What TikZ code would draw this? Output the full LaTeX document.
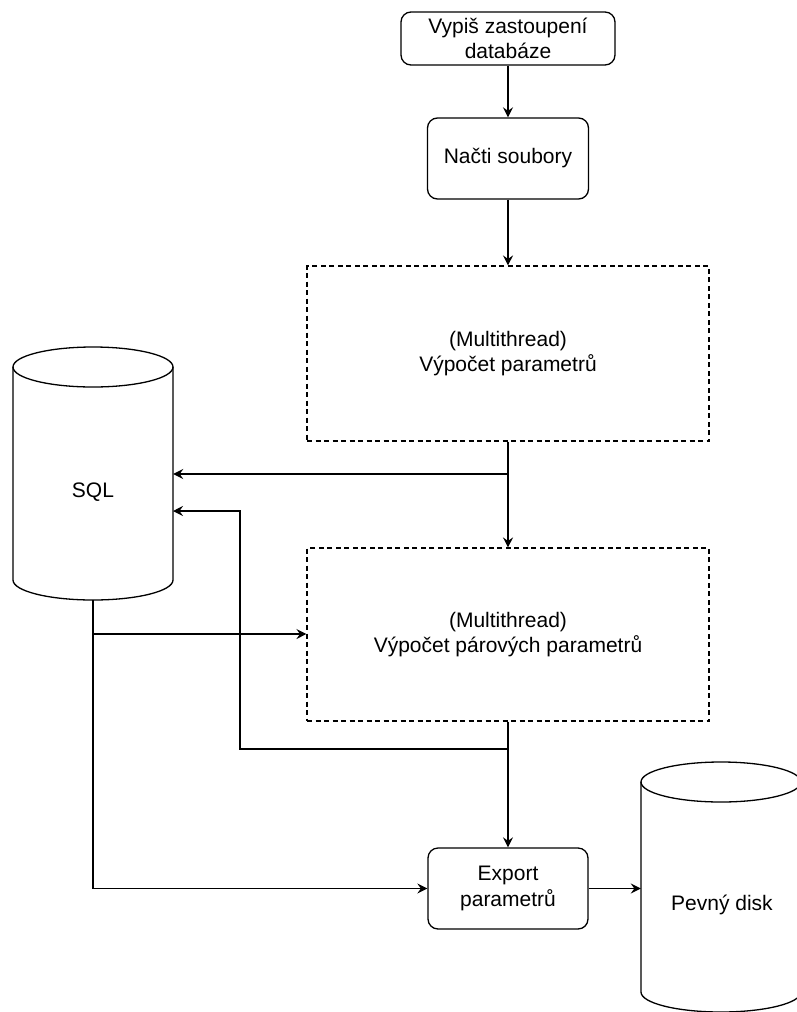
\documentclass[tikz,border=0pt]{standalone}
\usepackage{fontspec}
\setmainfont{Liberation Sans}
\usetikzlibrary{arrows.meta}
\begin{document}
\begin{tikzpicture}[x=1pt,y=-1pt,
  every node/.style={font=\fontsize{21}{25.5}\selectfont, align=center, inner sep=0pt},
  rbox/.style={draw, line width=1.3pt, rounded corners=10pt},
  dbox/.style={draw, line width=1.1pt, dash pattern=on 5pt off 3.5pt},
  ghost/.style={draw=none},
  shapeline/.style={line width=1.3pt},
  arr/.style={line width=1.4pt, -{Stealth[length=10pt,width=10pt,inset=3.5pt]}},
  conn/.style={line width=1.3pt}]
\useasboundingbox (0,0) rectangle (797,1012);
% boxes
\node[rbox, minimum width=214pt, minimum height=53pt] (n1) at (508,38.5) {Vypiš zastoupení\\databáze};
\node[rbox, minimum width=161pt, minimum height=81pt] (n2) at (508,158.5) {Načti soubory};
\node[dbox, minimum width=402pt, minimum height=175pt] (d1) at (508,353.5) {(Multithread)\\Výpočet parametrů};
\node[dbox, minimum width=402pt, minimum height=173pt] (d2) at (508,634.5) {(Multithread)\\Výpočet párových parametrů};
\node[rbox, minimum width=160pt, minimum height=81pt] (ex) at (508,888.5) {Export\\parametrů};
% cylinders
\node[ghost, minimum width=160pt, minimum height=253pt] (sql) at (93,473.5) {};
\draw[shapeline] (93,367) ellipse [x radius=80pt, y radius=20pt];
\draw[shapeline] (13,367) -- (13,580) .. controls (13,591.05) and (48.82,600) .. (93,600)
  .. controls (137.18,600) and (173,591.05) .. (173,580) -- (173,367);
\node (sqltxt) at (93,492) {SQL};
\node[ghost, minimum width=160pt, minimum height=250pt] (disk) at (721,887) {};
\draw[shapeline] (721,782) ellipse [x radius=80pt, y radius=20pt];
\draw[shapeline] (641,782) -- (641,992) .. controls (641,1003.05) and (676.82,1012) .. (721,1012)
  .. controls (765.18,1012) and (801,1003.05) .. (801,992) -- (801,782);
\node (disktxt) at (722,905) {Pevný disk};
% connectors
\coordinate (j1) at (508,474);
\coordinate (j2) at (508,749);
\coordinate (k2) at (240,749);
\coordinate (s2) at (173,511);
\coordinate (j3) at (93,634);
\draw[arr] (n1) -- (n2);
\draw[arr] (n2) -- (d1);
\draw[arr] (d1) -- (d2);
\draw[arr] (j1) -- (j1 -| sql.east);
\draw[arr] (j2) -- (k2) |- (s2);
\draw[arr] (d2) -- (ex);
\draw[arr] (sql.south) |- (ex.west);
\draw[arr] (j3) -- (j3 -| d2.west);
\draw[arr] (ex.east) -- (ex.east -| disk.west);
\end{tikzpicture}
\end{document}
